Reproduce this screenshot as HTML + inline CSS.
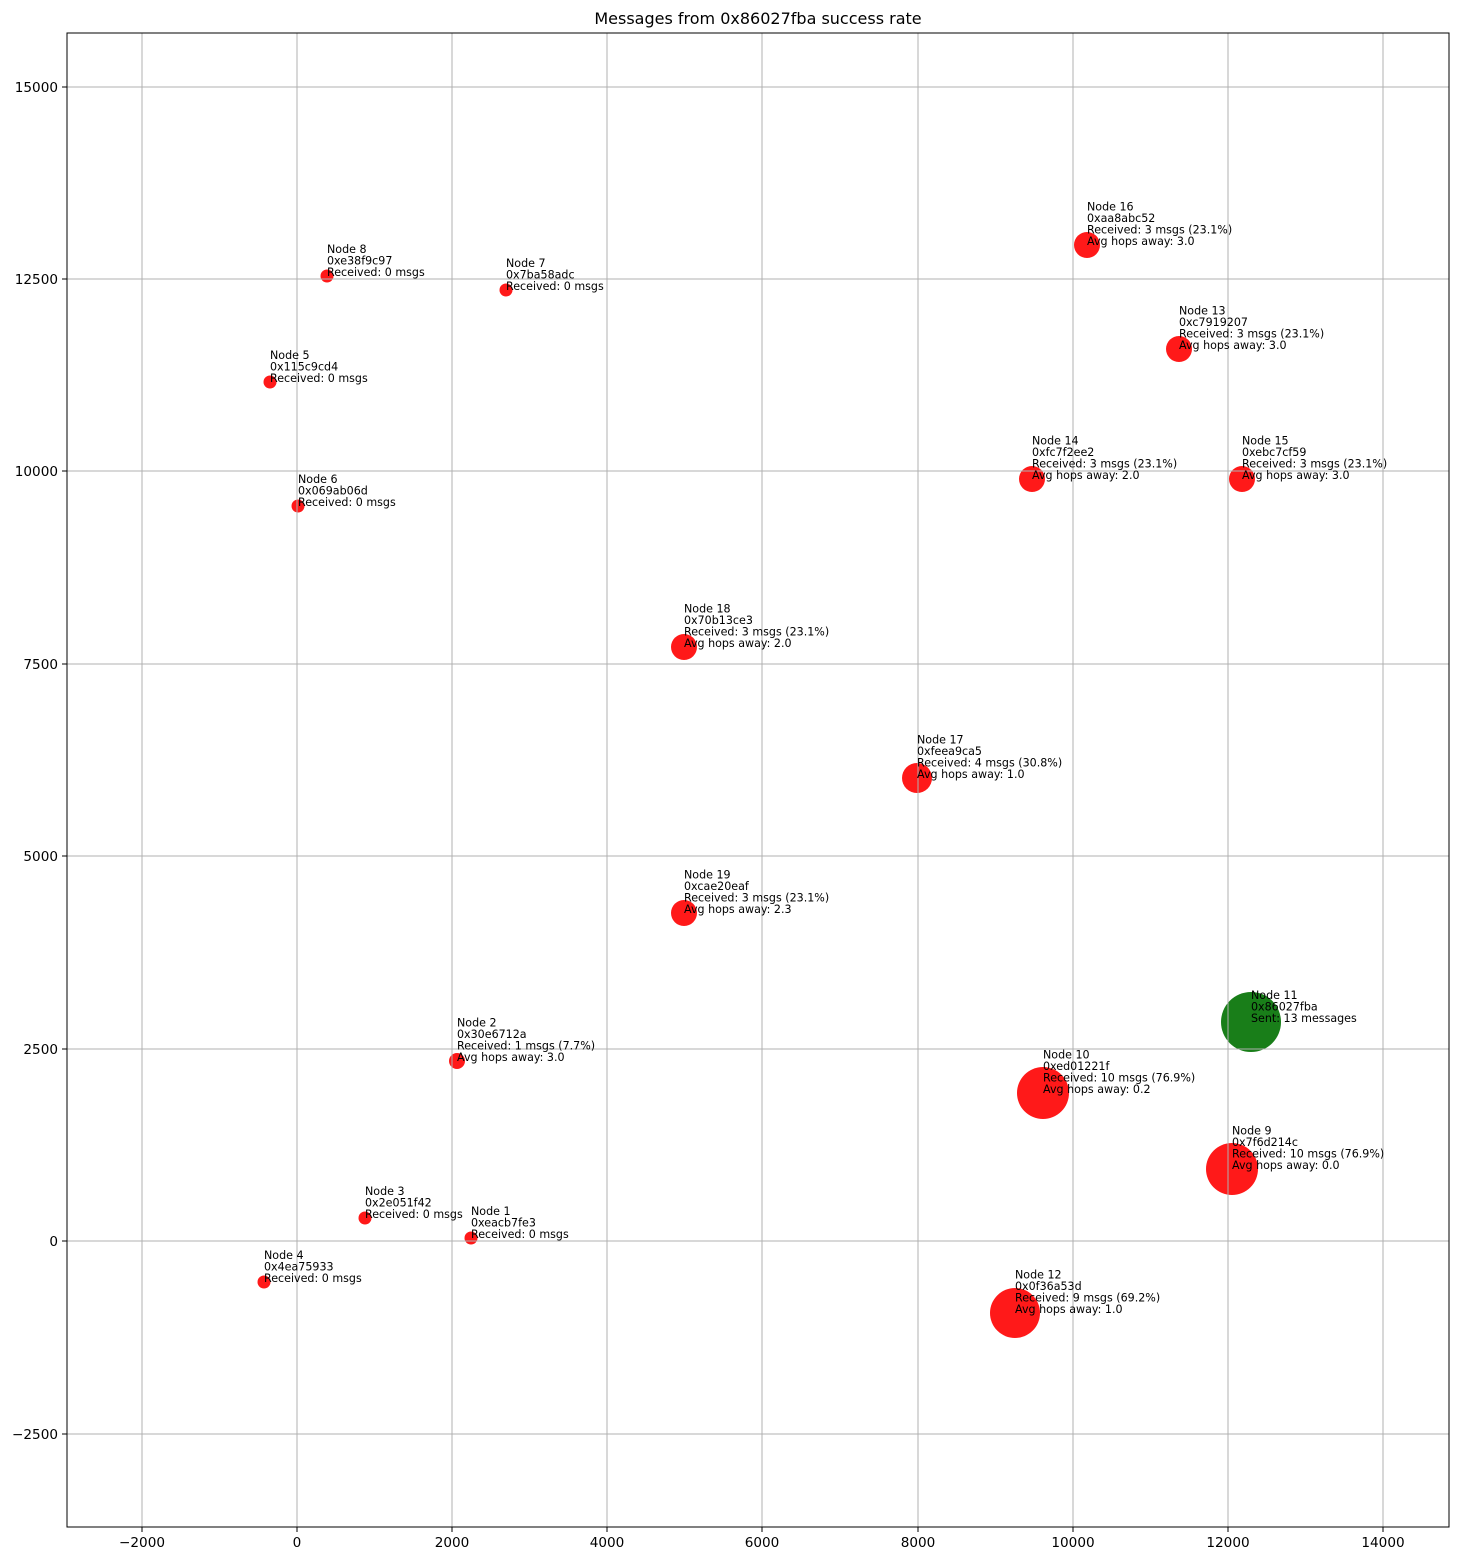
<!DOCTYPE html>
<html><head><meta charset="utf-8"><style>body{margin:0;background:#fff}svg{display:block}text{font-family:"DejaVu Sans","Liberation Sans",sans-serif}</style></head><body>
<svg width="1458" height="1560" xmlns="http://www.w3.org/2000/svg">
<rect width="1458" height="1560" fill="#fff"/>
<text x="758" y="24" font-size="16" text-anchor="middle">Messages from 0x86027fba success rate</text>
<g fill-opacity="0.9">
<circle cx="471" cy="1238" r="6.5" fill="#ff0000"/>
<circle cx="457" cy="1061" r="8" fill="#ff0000"/>
<circle cx="365" cy="1218" r="6.5" fill="#ff0000"/>
<circle cx="264" cy="1282" r="6.5" fill="#ff0000"/>
<circle cx="270" cy="382" r="6.5" fill="#ff0000"/>
<circle cx="298" cy="506" r="6.5" fill="#ff0000"/>
<circle cx="506" cy="290" r="6.5" fill="#ff0000"/>
<circle cx="327" cy="276" r="6.5" fill="#ff0000"/>
<circle cx="1232" cy="1169" r="26" fill="#ff0000"/>
<circle cx="1043" cy="1093" r="26" fill="#ff0000"/>
<circle cx="1251" cy="1022" r="30" fill="#007000"/>
<circle cx="1015" cy="1313" r="25" fill="#ff0000"/>
<circle cx="1179" cy="349" r="13" fill="#ff0000"/>
<circle cx="1032" cy="479" r="13" fill="#ff0000"/>
<circle cx="1242" cy="479" r="13" fill="#ff0000"/>
<circle cx="1087" cy="245" r="13" fill="#ff0000"/>
<circle cx="917" cy="778" r="15" fill="#ff0000"/>
<circle cx="684" cy="647" r="13" fill="#ff0000"/>
<circle cx="684" cy="913" r="13" fill="#ff0000"/>
</g>
<g stroke="#b0b0b0" stroke-width="1">
<line x1="142" y1="33" x2="142" y2="1527"/><line x1="297" y1="33" x2="297" y2="1527"/><line x1="452" y1="33" x2="452" y2="1527"/><line x1="607" y1="33" x2="607" y2="1527"/><line x1="762" y1="33" x2="762" y2="1527"/><line x1="918" y1="33" x2="918" y2="1527"/><line x1="1073" y1="33" x2="1073" y2="1527"/><line x1="1228" y1="33" x2="1228" y2="1527"/><line x1="1383" y1="33" x2="1383" y2="1527"/>
<line x1="67" y1="87" x2="1449" y2="87"/><line x1="67" y1="279" x2="1449" y2="279"/><line x1="67" y1="471" x2="1449" y2="471"/><line x1="67" y1="664" x2="1449" y2="664"/><line x1="67" y1="856" x2="1449" y2="856"/><line x1="67" y1="1049" x2="1449" y2="1049"/><line x1="67" y1="1241" x2="1449" y2="1241"/><line x1="67" y1="1434" x2="1449" y2="1434"/>
</g>
<rect x="67" y="33" width="1382" height="1494" fill="none" stroke="#000" stroke-width="1"/>
<g stroke="#000">
<line x1="142" y1="1527" x2="142" y2="1532"/><line x1="297" y1="1527" x2="297" y2="1532"/><line x1="452" y1="1527" x2="452" y2="1532"/><line x1="607" y1="1527" x2="607" y2="1532"/><line x1="762" y1="1527" x2="762" y2="1532"/><line x1="918" y1="1527" x2="918" y2="1532"/><line x1="1073" y1="1527" x2="1073" y2="1532"/><line x1="1228" y1="1527" x2="1228" y2="1532"/><line x1="1383" y1="1527" x2="1383" y2="1532"/>
<line x1="62" y1="87" x2="67" y2="87"/><line x1="62" y1="279" x2="67" y2="279"/><line x1="62" y1="471" x2="67" y2="471"/><line x1="62" y1="664" x2="67" y2="664"/><line x1="62" y1="856" x2="67" y2="856"/><line x1="62" y1="1049" x2="67" y2="1049"/><line x1="62" y1="1241" x2="67" y2="1241"/><line x1="62" y1="1434" x2="67" y2="1434"/>
</g>
<g font-size="13.6" text-anchor="middle">
<text x="142" y="1547">−2000</text><text x="297" y="1547">0</text><text x="452" y="1547">2000</text><text x="607" y="1547">4000</text><text x="762" y="1547">6000</text><text x="918" y="1547">8000</text><text x="1073" y="1547">10000</text><text x="1228" y="1547">12000</text><text x="1383" y="1547">14000</text>
</g>
<g font-size="13.6" text-anchor="end">
<text x="58" y="92">15000</text><text x="58" y="284">12500</text><text x="58" y="476">10000</text><text x="58" y="669">7500</text><text x="58" y="861">5000</text><text x="58" y="1054">2500</text><text x="58" y="1246">0</text><text x="58" y="1439">−2500</text>
</g>
<g font-size="11.1">
<text x="471" y="1215">Node 1</text><text x="471" y="1226.5">0xeacb7fe3</text><text x="471" y="1238">Received: 0 msgs</text>
<text x="457" y="1026.5">Node 2</text><text x="457" y="1038">0x30e6712a</text><text x="457" y="1049.5">Received: 1 msgs (7.7%)</text><text x="457" y="1061">Avg hops away: 3.0</text>
<text x="365" y="1195">Node 3</text><text x="365" y="1206.5">0x2e051f42</text><text x="365" y="1218">Received: 0 msgs</text>
<text x="264" y="1259">Node 4</text><text x="264" y="1270.5">0x4ea75933</text><text x="264" y="1282">Received: 0 msgs</text>
<text x="270" y="359">Node 5</text><text x="270" y="370.5">0x115c9cd4</text><text x="270" y="382">Received: 0 msgs</text>
<text x="298" y="483">Node 6</text><text x="298" y="494.5">0x069ab06d</text><text x="298" y="506">Received: 0 msgs</text>
<text x="506" y="267">Node 7</text><text x="506" y="278.5">0x7ba58adc</text><text x="506" y="290">Received: 0 msgs</text>
<text x="327" y="253">Node 8</text><text x="327" y="264.5">0xe38f9c97</text><text x="327" y="276">Received: 0 msgs</text>
<text x="1232" y="1134.5">Node 9</text><text x="1232" y="1146">0x7f6d214c</text><text x="1232" y="1157.5">Received: 10 msgs (76.9%)</text><text x="1232" y="1169">Avg hops away: 0.0</text>
<text x="1043" y="1058.5">Node 10</text><text x="1043" y="1070">0xed01221f</text><text x="1043" y="1081.5">Received: 10 msgs (76.9%)</text><text x="1043" y="1093">Avg hops away: 0.2</text>
<text x="1251" y="999">Node 11</text><text x="1251" y="1010.5">0x86027fba</text><text x="1251" y="1022">Sent: 13 messages</text>
<text x="1015" y="1278.5">Node 12</text><text x="1015" y="1290">0x0f36a53d</text><text x="1015" y="1301.5">Received: 9 msgs (69.2%)</text><text x="1015" y="1313">Avg hops away: 1.0</text>
<text x="1179" y="314.5">Node 13</text><text x="1179" y="326">0xc7919207</text><text x="1179" y="337.5">Received: 3 msgs (23.1%)</text><text x="1179" y="349">Avg hops away: 3.0</text>
<text x="1032" y="444.5">Node 14</text><text x="1032" y="456">0xfc7f2ee2</text><text x="1032" y="467.5">Received: 3 msgs (23.1%)</text><text x="1032" y="479">Avg hops away: 2.0</text>
<text x="1242" y="444.5">Node 15</text><text x="1242" y="456">0xebc7cf59</text><text x="1242" y="467.5">Received: 3 msgs (23.1%)</text><text x="1242" y="479">Avg hops away: 3.0</text>
<text x="1087" y="210.5">Node 16</text><text x="1087" y="222">0xaa8abc52</text><text x="1087" y="233.5">Received: 3 msgs (23.1%)</text><text x="1087" y="245">Avg hops away: 3.0</text>
<text x="917" y="743.5">Node 17</text><text x="917" y="755">0xfeea9ca5</text><text x="917" y="766.5">Received: 4 msgs (30.8%)</text><text x="917" y="778">Avg hops away: 1.0</text>
<text x="684" y="612.5">Node 18</text><text x="684" y="624">0x70b13ce3</text><text x="684" y="635.5">Received: 3 msgs (23.1%)</text><text x="684" y="647">Avg hops away: 2.0</text>
<text x="684" y="878.5">Node 19</text><text x="684" y="890">0xcae20eaf</text><text x="684" y="901.5">Received: 3 msgs (23.1%)</text><text x="684" y="913">Avg hops away: 2.3</text>
</g>
</svg>
</body></html>
